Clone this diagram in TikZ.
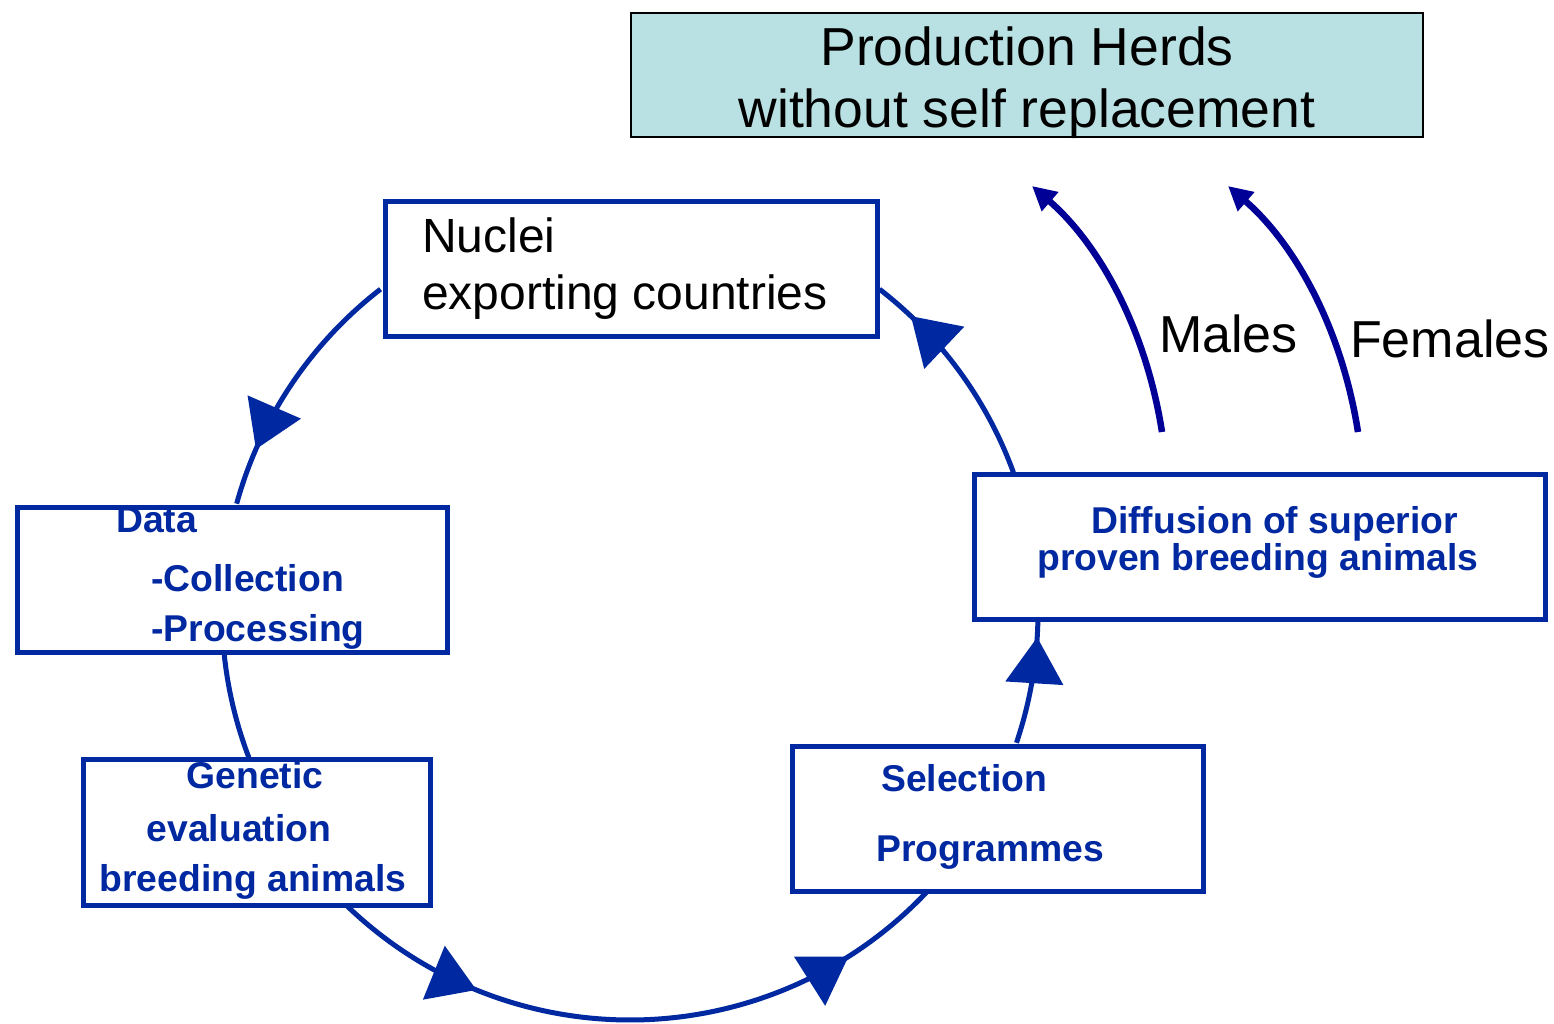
\documentclass[tikz,border=0pt]{standalone}
\usepackage{fontspec}
\setmainfont{Liberation Sans}
\usetikzlibrary{arrows.meta,decorations.markings}
\definecolor{cycblue}{RGB}{0,40,160}
\definecolor{herdblue}{RGB}{0,0,150}
\definecolor{prodfill}{RGB}{185,224,226}
\begin{document}
\begin{tikzpicture}[x=1pt,y=-1pt,
  bluebox/.style={draw=cycblue, line width=5pt, inner sep=0pt, fill=white},
  prodbox/.style={draw=black, line width=2.5pt, inner sep=0pt, fill=prodfill},
  conn/.style={draw=cycblue, line width=5pt},
  midarrow/.style={postaction={decorate}, decoration={markings, mark=at position #1 with {\arrow[cycblue]{Triangle[length=46pt,width=57pt]}}}},
  twoarrows/.style={postaction={decorate}, decoration={markings,
     mark=at position 0.24 with {\arrow[cycblue]{Triangle[length=46pt,width=57pt]}},
     mark=at position 0.84 with {\arrow[cycblue]{Triangle[length=46pt,width=57pt]}}}},
  herd/.style={draw=herdblue, line width=6.5pt, -{Triangle[length=24pt,width=24pt]}},
  bluetxt/.style={inner sep=0pt, text=cycblue, font=\fontsize{37.3}{44}\selectfont\bfseries},
  blacktxt/.style={inner sep=0pt, text=black, font=\fontsize{48}{56}\selectfont},
  prodtxt/.style={inner sep=0pt, text=black, font=\fontsize{53.5}{62}\selectfont},
  sextxt/.style={inner sep=0pt, text=black, font=\fontsize{52}{62}\selectfont}
]
\fill[white] (0,0) rectangle (1554,1024);
\useasboundingbox (0,0) rectangle (1554,1024);

% circle of the breeding cycle
\coordinate (O) at (630,612);
\path (O) ++(232.3:408) coordinate (nucW);
\path (O) ++(174:408) coordinate (datS);
\path (O) ++(133.9:408) coordinate (genS);
\path (O) ++(18.7:408) coordinate (selN);
\path (O) ++(-20:408) coordinate (difN);

\draw[conn, midarrow=0.78] (nucW) arc[start angle=232.3, end angle=195.4, radius=408];
\draw[conn] (datS) arc[start angle=174, end angle=159.1, radius=408];
\draw[conn, twoarrows] (genS) arc[start angle=133.9, end angle=43.1, radius=408];
\draw[conn, midarrow=0.87] (selN) arc[start angle=18.7, end angle=1.3, radius=408];
\draw[conn, midarrow=0.82] (difN) arc[start angle=-20, end angle=-52.3, radius=408];

% boxes
\node[prodbox, minimum width=792pt, minimum height=124pt] (prod) at (1027,75) {};
\node[bluebox, minimum width=492pt, minimum height=134pt] (nuc) at (631,269) {};
\node[bluebox, minimum width=430pt, minimum height=145pt] (dat) at (232,579.5) {};
\node[bluebox, minimum width=347pt, minimum height=146pt] (gen) at (256.5,832) {};
\node[bluebox, minimum width=411pt, minimum height=145pt] (sel) at (997.5,818.5) {};
\node[bluebox, minimum width=571pt, minimum height=145pt] (dif) at (1259.5,546.5) {};

% texts
\node[prodtxt, anchor=base] (prodA) at (1027,66) {Production Herds};
\node[prodtxt, anchor=base] (prodB) at (1027,128) {without self replacement};

\node[blacktxt, anchor=base west] (nucA) at (422,252) {Nuclei};
\node[blacktxt, anchor=base west] (nucB) at (422,309) {exporting countries};

\node[bluetxt, anchor=base west] (datA) at (116,532) {Data};
\node[bluetxt, anchor=base west] (datB) at (151,591) {-Collection};
\node[bluetxt, anchor=base west] (datC) at (151,641) {-Processing};

\node[bluetxt, anchor=base] (genA) at (255,788) {Genetic};
\node[bluetxt, anchor=base] (genB) at (239,841) {evaluation};
\node[bluetxt, anchor=base] (genC) at (253,891) {breeding animals};

\node[bluetxt, anchor=base west] (selA) at (881,791) {Selection};
\node[bluetxt, anchor=base west] (selB) at (876,861) {Programmes};

\node[bluetxt, anchor=base west] (difA) at (1091,533) {Diffusion of superior};
\node[bluetxt, anchor=base west] (difB) at (1037,570) {proven breeding animals};

% males / females arrows
\coordinate (mA) at (1162,432);
\coordinate (mB) at (1032,186);
\coordinate (fA) at (1358,432);
\coordinate (fB) at (1228,186);
\draw[herd] (mA) .. controls (1146,330) and (1100,245) .. (mB);
\draw[herd] (fA) .. controls (1342,330) and (1296,245) .. (fB);
\node[sextxt, anchor=base west] (males) at (1159,352) {Males};
\node[sextxt, anchor=base west] (females) at (1350,357) {Females};
\end{tikzpicture}
\end{document}
